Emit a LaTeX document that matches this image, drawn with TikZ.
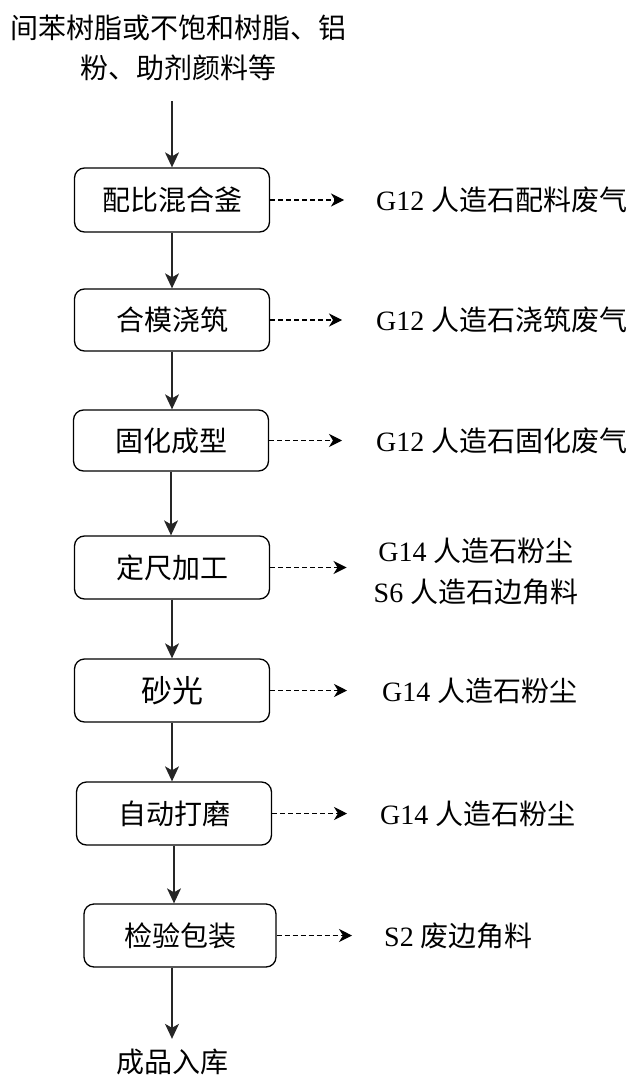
\documentclass[tikz,border=0pt]{standalone}
\usepackage{fontspec}
\setmainfont{Liberation Serif}
\newfontfamily\cjk{Noto Sans CJK SC}
\usetikzlibrary{arrows.meta}
\begin{document}
\begin{tikzpicture}[x=1pt,y=-1pt,
  proc/.style={draw=black, line width=1.3pt, rounded corners=10pt,
    minimum width=195pt, minimum height=63pt, inner sep=0pt,
    font=\fontsize{28}{34}\selectfont\cjk},
  arr/.style={draw=black!85, line width=1.3pt,
    -{Stealth[length=15pt,width=14pt,inset=4pt]}},
  darr/.style={draw=black, line width=1.1pt, dash pattern=on 5pt off 3pt,
    -{Stealth[length=13pt,width=13pt,inset=4pt]}, shorten >=32pt},
  lab/.style={anchor=west, inner sep=0pt, font=\fontsize{28}{41}\selectfont},
  txt/.style={inner sep=0pt, align=center, font=\fontsize{28}{40}\selectfont\cjk},
]
\useasboundingbox (0,0) rectangle (629,1075);

\node[txt] (in) at (178,48) {间苯树脂或不饱和树脂、铝\\粉、助剂颜料等};

\node[proc, minimum height=64pt] (B1) at (172,200) {配比混合釜};
\node[proc, minimum height=62pt] (B2) at (172,320) {合模浇筑};
\node[proc, minimum height=61pt] (B3) at (171,440.5) {固化成型};
\node[proc] (B4) at (172,567.5) {定尺加工};
\node[proc, font=\fontsize{31}{36}\selectfont\cjk] (B5) at (172,690.5) {砂光};
\node[proc] (B6) at (174,813.5) {自动打磨};
\node[proc, minimum width=192pt] (B7) at (180,935.5) {检验包装};

\node[txt] (out) at (172,1062) {成品入库};

\node[lab] (L1) at (376,200) {G12 {\cjk 人造石配料废气}};
\node[lab] (L2) at (376,320) {G12 {\cjk 人造石浇筑废气}};
\node[lab] (L3) at (376,440.5) {G12 {\cjk 人造石固化废气}};
\node[lab, anchor=center, align=center] (L4) at (476,571) {G14 {\cjk 人造石粉尘}\\S6 {\cjk 人造石边角料}};
\node[lab] (L5) at (382,690.5) {G14 {\cjk 人造石粉尘}};
\node[lab] (L6) at (380,813.5) {G14 {\cjk 人造石粉尘}};
\node[lab] (L7) at (384,935.5) {S2 {\cjk 废边角料}};

\draw[arr, shorten <=20pt] (B1.north |- in.south) -- (B1.north);
\draw[arr] (B1.south) -- (B1.south |- B2.north);
\draw[arr] (B2.south) -- (B2.south |- B3.north);
\draw[arr] (B3.south) -- (B3.south |- B4.north);
\draw[arr] (B4.south) -- (B4.south |- B5.north);
\draw[arr] (B5.south) -- (B5.south |- B6.north);
\draw[arr] (B6.south) -- (B6.south |- B7.north);
\draw[arr, shorten >=10pt] (out.north |- B7.south) -- (out.north);

\draw[darr] (B1.east) -- (L1.west);
\draw[darr, shorten >=34pt] (B2.east) -- (L2.west);
\draw[darr, shorten >=34pt] (B3.east) -- (L3.west);
\draw[darr, shorten >=27pt] (B4.east) -- (L4.west |- B4.east);
\draw[darr, shorten >=35pt] (B5.east) -- (L5.west);
\draw[darr, shorten >=33pt] (B6.east) -- (L6.west);
\draw[darr] (B7.east) -- (L7.west);
\end{tikzpicture}
\end{document}
